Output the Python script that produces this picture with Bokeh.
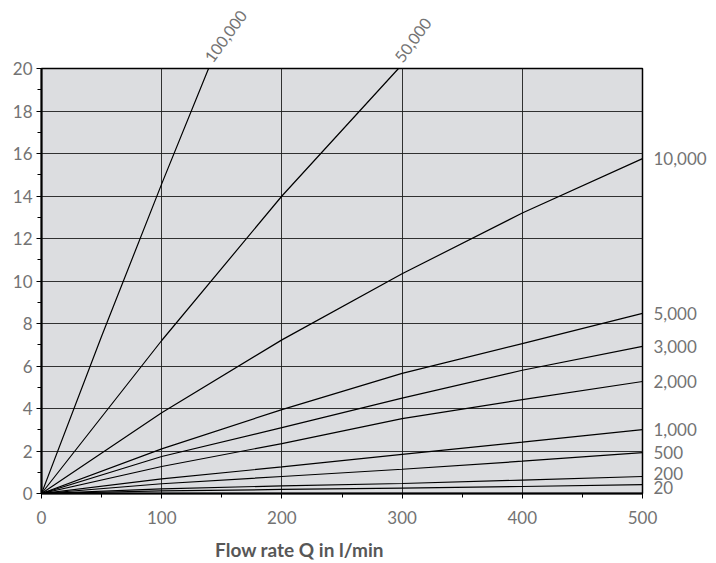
from bokeh.plotting import figure
from bokeh.models import Range1d, FixedTicker, LinearAxis
from bokeh.embed import file_html
from bokeh.resources import INLINE

# ---- data ----
flow = [0, 100, 200, 300, 400, 500]
dp_20 = [0, 0.12, 0.19, 0.25, 0.33, 0.42]
dp_200 = [0, 0.22, 0.36, 0.47, 0.63, 0.80]
dp_500 = [0, 0.46, 0.80, 1.14, 1.52, 1.92]
dp_1000 = [0, 0.69, 1.25, 1.84, 2.42, 3.01]
dp_2000 = [0, 1.27, 2.35, 3.52, 4.42, 5.27]
dp_3000 = [0, 1.74, 3.10, 4.49, 5.80, 6.92]
dp_5000 = [0, 2.10, 3.95, 5.65, 7.05, 8.48]
dp_10000 = [0, 3.80, 7.23, 10.34, 13.20, 15.76]
flow_50000 = [0, 100, 200, 297]
dp_50000 = [0, 7.2, 14.0, 20.0]
flow_100000 = [0, 50, 100, 139]
dp_100000 = [0, 7.4, 14.57, 20.0]

right_series = [
    ("10,000", dp_10000), ("5,000", dp_5000), ("3,000", dp_3000),
    ("2,000", dp_2000), ("1,000", dp_1000), ("500", dp_500),
    ("200", dp_200), ("20", dp_20),
]
top_series = [("100,000", flow_100000, dp_100000), ("50,000", flow_50000, dp_50000)]

x_ticks = [0, 100, 200, 300, 400, 500]
x_minor = [50, 150, 250, 350, 450]
y_ticks = [0, 2, 4, 6, 8, 10, 12, 14, 16, 18, 20]
y_minor = [1, 3, 5, 7, 9, 11, 13, 15, 17, 19]
x_title = "Flow rate Q in l/min"

FONT = "Lato"
GREY = "#737373"

p = figure(frame_width=601, frame_height=425, output_backend="svg", toolbar_location=None,
           x_range=Range1d(0, 500), y_range=Range1d(0, 20),
           min_border_left=41, min_border_right=70, min_border_top=68, min_border_bottom=68)
p.background_fill_color = "#dcdde0"
p.border_fill_color = "white"
p.outline_line_color = "black"
p.outline_line_width = 1.5

for ax, ticks, minor in ((p.xaxis, x_ticks, x_minor), (p.yaxis, y_ticks, y_minor)):
    ax.ticker = FixedTicker(ticks=ticks, minor_ticks=minor)
    ax.axis_line_color = "black"
    ax.axis_line_width = 2
    ax.major_tick_line_color = "black"
    ax.minor_tick_line_color = "black"
    ax.major_tick_in = 0
    ax.minor_tick_in = 0
    ax.major_tick_out = 5
    ax.minor_tick_out = 4
    ax.major_label_text_font = FONT
    ax.major_label_text_font_size = "17px"
    ax.major_label_text_color = GREY
p.xaxis.major_label_standoff = 12
p.yaxis.major_label_standoff = 4

p.grid.grid_line_color = "#1e1e1e"
p.grid.grid_line_width = 1
p.grid.grid_line_alpha = 0.9

for name, ys in right_series:
    p.line(flow, ys, line_color="black", line_width=1.2)
for name, xs, ys in top_series:
    p.line(xs, ys, line_color="black", line_width=1.2)


def label_axis(ticks, overrides, size="17px"):
    ax = LinearAxis(ticker=FixedTicker(ticks=ticks, minor_ticks=[]),
                    major_label_overrides=overrides)
    ax.axis_line_color = None
    ax.major_tick_line_color = None
    ax.minor_tick_line_color = None
    ax.major_label_text_font = FONT
    ax.major_label_text_font_size = size
    ax.major_label_text_color = GREY
    return ax


# curve labels at the right edge (nudges in bar so 200 / 20 do not collide)
nudge = {"200": 0.15, "20": -0.12}
r_ticks = [round(ys[-1] + nudge.get(n, 0), 3) for n, ys in right_series]
r_axis = label_axis(r_ticks, {t: n for t, (n, _) in zip(r_ticks, right_series)})
r_axis.major_label_standoff = 5
p.add_layout(r_axis, "right")

# curve labels above the top edge
t_ticks = [xs[-1] for _, xs, _ in top_series]
t_axis = label_axis(t_ticks, {t: n for t, (n, _, _) in zip(t_ticks, top_series)}, size="16px")
t_axis.major_label_orientation = 0.94
t_axis.major_label_standoff = 2
p.add_layout(t_axis, "above")

# x title as a single-tick axis so it can sit left of centre like the original
title_pos = 214.6
b_axis = label_axis([title_pos], {title_pos: x_title}, size="19px")
b_axis.major_label_text_font_style = "bold"
b_axis.major_label_text_color = "#575757"
b_axis.major_label_standoff = 5
p.add_layout(b_axis, "below")

open("out.html", "w").write(file_html(p, INLINE))
